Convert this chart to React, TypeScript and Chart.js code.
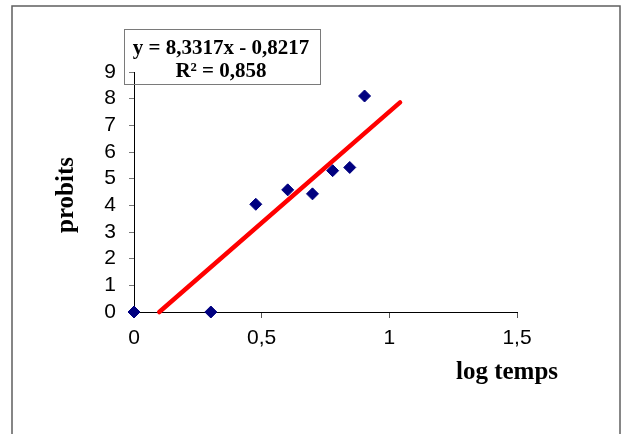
import React, { useEffect, useRef } from 'react';
import { Chart, registerables } from 'chart.js';

Chart.register(...registerables);

const logTemps = [0, 0.301, 0.477, 0.602, 0.699, 0.778, 0.845, 0.903];
const probitValues = [0, 0, 4.04, 4.58, 4.43, 5.3, 5.42, 8.1];
const trendX = [0.099, 1.042];
const trendY = [0, 7.86];
const xTickLabels = ['0', '0,5', '1', '1,5'];
const yTickLabels = ['0', '1', '2', '3', '4', '5', '6', '7', '8', '9'];
const equationLines = ['y = 8,3317x - 0,8217', 'R² = 0,858'];
const xTitle = 'log temps';
const yTitle = 'probits';

export default function App() {
  const ref = useRef<HTMLCanvasElement>(null);

  useEffect(() => {
    const canvas = ref.current;
    if (!canvas) return;
    const decor = {
      id: 'decor',
      beforeDraw(chart: any) {
        const ctx = chart.ctx;
        ctx.save();
        ctx.fillStyle = '#ffffff';
        ctx.fillRect(0, 0, chart.width, chart.height);
        ctx.strokeStyle = '#5f5f5f';
        ctx.lineWidth = 1.5;
        ctx.strokeRect(12, 6, 608, 500);
        ctx.restore();
      },
      afterDraw(chart: any) {
        const ctx = chart.ctx;
        ctx.save();
        // equation box
        ctx.strokeStyle = '#7a7a7a';
        ctx.lineWidth = 1;
        ctx.strokeRect(124.5, 29.5, 196, 55);
        ctx.fillStyle = '#000';
        ctx.font = 'bold 21px "Liberation Serif", "Times New Roman", serif';
        ctx.textAlign = 'center';
        ctx.textBaseline = 'alphabetic';
        ctx.fillText(equationLines[0], 221, 54);
        ctx.fillText(equationLines[1], 221, 77);
        // axis titles
        ctx.font = 'bold 25px "Liberation Serif", "Times New Roman", serif';
        ctx.fillText(xTitle, 507, 379);
        ctx.translate(72.5, 195);
        ctx.rotate(-Math.PI / 2);
        ctx.fillText(yTitle, 0, 0);
        ctx.restore();
      },
    };

    const chart = new Chart(canvas, {
      type: 'scatter',
      data: {
        datasets: [
          {
            type: 'line',
            data: trendX.map((x, i) => ({ x, y: trendY[i] })),
            borderColor: '#ff0000',
            borderWidth: 4.5,
            borderCapStyle: 'round',
            pointRadius: 0,
            showLine: true,
            fill: false,
            clip: false,
            order: 1,
          } as any,
          {
            data: logTemps.map((x, i) => ({ x, y: probitValues[i] })),
            pointStyle: 'rectRot',
            pointRadius: 6,
            backgroundColor: '#000080',
            borderColor: '#000080',
            borderWidth: 1,
            clip: false,
            order: 0,
          } as any,
        ],
      },
      options: {
        animation: false,
        responsive: false,
        devicePixelRatio: 1,
        layout: { padding: { top: 72, right: 111, left: 0, bottom: 0 } },
        plugins: { legend: { display: false }, tooltip: { enabled: false } },
        scales: {
          x: {
            type: 'linear',
            min: 0,
            max: 1.5,
            ticks: {
              stepSize: 0.5,
              autoSkip: false,
              maxRotation: 0,
              callback: (_v: any, i: number) => xTickLabels[i],
              color: '#000',
              font: { family: '"Liberation Sans", Arial, sans-serif', size: 21 },
              padding: 8,
            },
            grid: { display: true, drawOnChartArea: false, drawTicks: true, tickLength: 6, color: '#555' },
            border: { display: true, color: '#000', width: 1 },
            afterFit(s: any) {
              s.height = 122;
            },
          },
          y: {
            type: 'linear',
            min: 0,
            max: 9,
            ticks: {
              stepSize: 1,
              autoSkip: false,
              callback: (_v: any, i: number) => yTickLabels[i],
              color: '#000',
              font: { family: '"Liberation Sans", Arial, sans-serif', size: 21 },
              padding: 13,
            },
            grid: { display: true, drawOnChartArea: false, drawTicks: true, tickLength: 5, color: '#777' },
            border: { display: true, color: '#000', width: 1 },
            afterFit(s: any) {
              s.width = 134;
            },
          },
        },
      } as any,
      plugins: [decor],
    });
    return () => chart.destroy();
  }, []);

  return (
    <div style={{ position: 'fixed', left: 0, top: 0, width: 628, height: 434 }}>
      <canvas ref={ref} width={628} height={434} style={{ display: 'block' }} />
    </div>
  );
}
